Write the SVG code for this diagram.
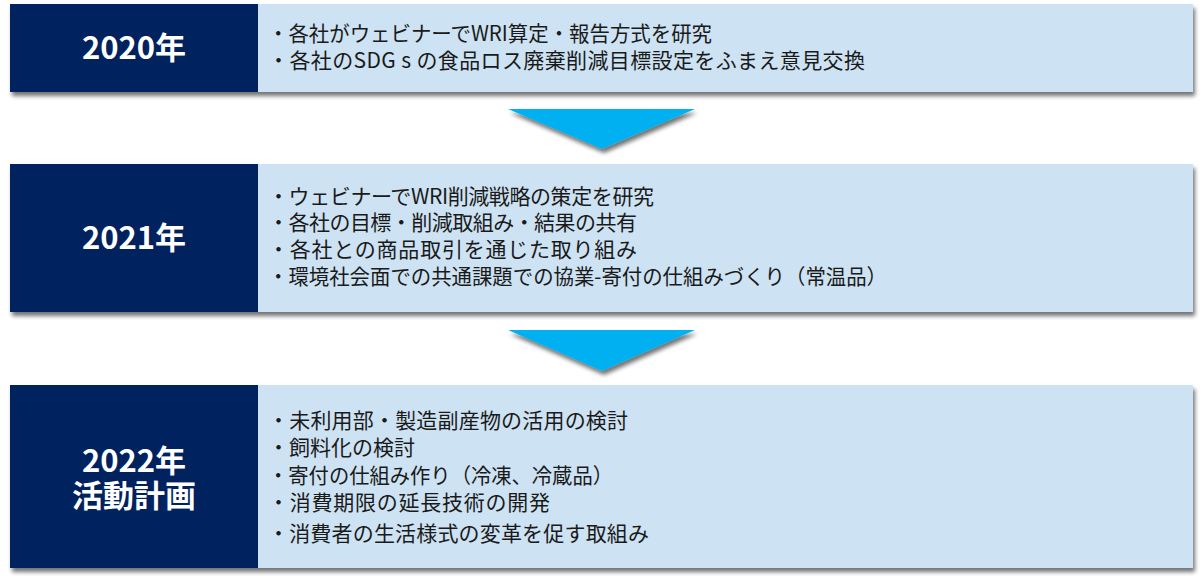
<svg xmlns="http://www.w3.org/2000/svg" width="1203" height="583" viewBox="0 0 1203 583">
<style>
.light{fill:#CDE2F2;}
.dark{fill:#03215E;}
.arrow{fill:#00B0F0;}
.lbl{font-family:"Noto Sans CJK JP","Noto Sans",sans-serif;font-weight:bold;font-size:31px;fill:#FFFFFF;text-anchor:middle;}
.txt{font-family:"Noto Sans CJK JP","Noto Sans",sans-serif;font-size:21px;fill:#1A1A1A;}
</style>
<defs>
<filter id="sh" x="-5%" y="-20%" width="110%" height="150%">
<feGaussianBlur in="SourceAlpha" stdDeviation="2.2"/>
<feOffset dx="2" dy="4" result="b"/>
<feComponentTransfer><feFuncA type="linear" slope="0.55"/></feComponentTransfer>
<feMerge><feMergeNode/><feMergeNode in="SourceGraphic"/></feMerge>
</filter>
</defs>
<rect width="1203" height="583" fill="#FFFFFF"/>
<g id="node-2020">
<g filter="url(#sh)">
<rect class="light" x="10" y="4" width="1183" height="88"/>
<rect class="dark" x="10" y="4" width="248" height="88"/>
</g>
<text class="lbl" x="134" y="59">2020年</text>
<text class="txt" x="268" y="41" textLength="444" lengthAdjust="spacingAndGlyphs">・各社がウェビナーでWRI算定・報告方式を研究</text>
<text class="txt" x="268" y="68" textLength="597" lengthAdjust="spacing">・各社のSDG s の食品ロス廃棄削減目標設定をふまえ意見交換</text>
</g>
<g id="node-2021">
<g filter="url(#sh)">
<rect class="light" x="10" y="164" width="1183" height="148"/>
<rect class="dark" x="10" y="164" width="248" height="148"/>
</g>
<text class="lbl" x="134" y="249">2021年</text>
<text class="txt" x="268" y="204" textLength="386" lengthAdjust="spacing">・ウェビナーでWRI削減戦略の策定を研究</text>
<text class="txt" x="268" y="230" textLength="369" lengthAdjust="spacing">・各社の目標・削減取組み・結果の共有</text>
<text class="txt" x="268" y="257" textLength="369" lengthAdjust="spacing">・各社との商品取引を通じた取り組み</text>
<text class="txt" x="268" y="284" textLength="619" lengthAdjust="spacingAndGlyphs">・環境社会面での共通課題での協業-寄付の仕組みづくり（常温品）</text>
</g>
<g id="node-2022">
<g filter="url(#sh)">
<rect class="light" x="10" y="385" width="1183" height="183"/>
<rect class="dark" x="10" y="385" width="248" height="183"/>
</g>
<text class="lbl" x="134" y="472">2022年</text>
<text class="lbl" x="134" y="507">活動計画</text>
<text class="txt" x="268" y="428" textLength="360" lengthAdjust="spacing">・未利用部・製造副産物の活用の検討</text>
<text class="txt" x="268" y="455" textLength="147" lengthAdjust="spacing">・飼料化の検討</text>
<text class="txt" x="268" y="483" textLength="345" lengthAdjust="spacingAndGlyphs">・寄付の仕組み作り（冷凍、冷蔵品）</text>
<text class="txt" x="268" y="510" textLength="282" lengthAdjust="spacing">・消費期限の延長技術の開発</text>
<text class="txt" x="268" y="541" textLength="381" lengthAdjust="spacing">・消費者の生活様式の変革を促す取組み</text>
</g>
<g id="connectors" filter="url(#sh)">
<polygon class="arrow" points="508,109 695,109 602,149"/>
<polygon class="arrow" points="508,330 695,330 602,371"/>
</g>
</svg>
